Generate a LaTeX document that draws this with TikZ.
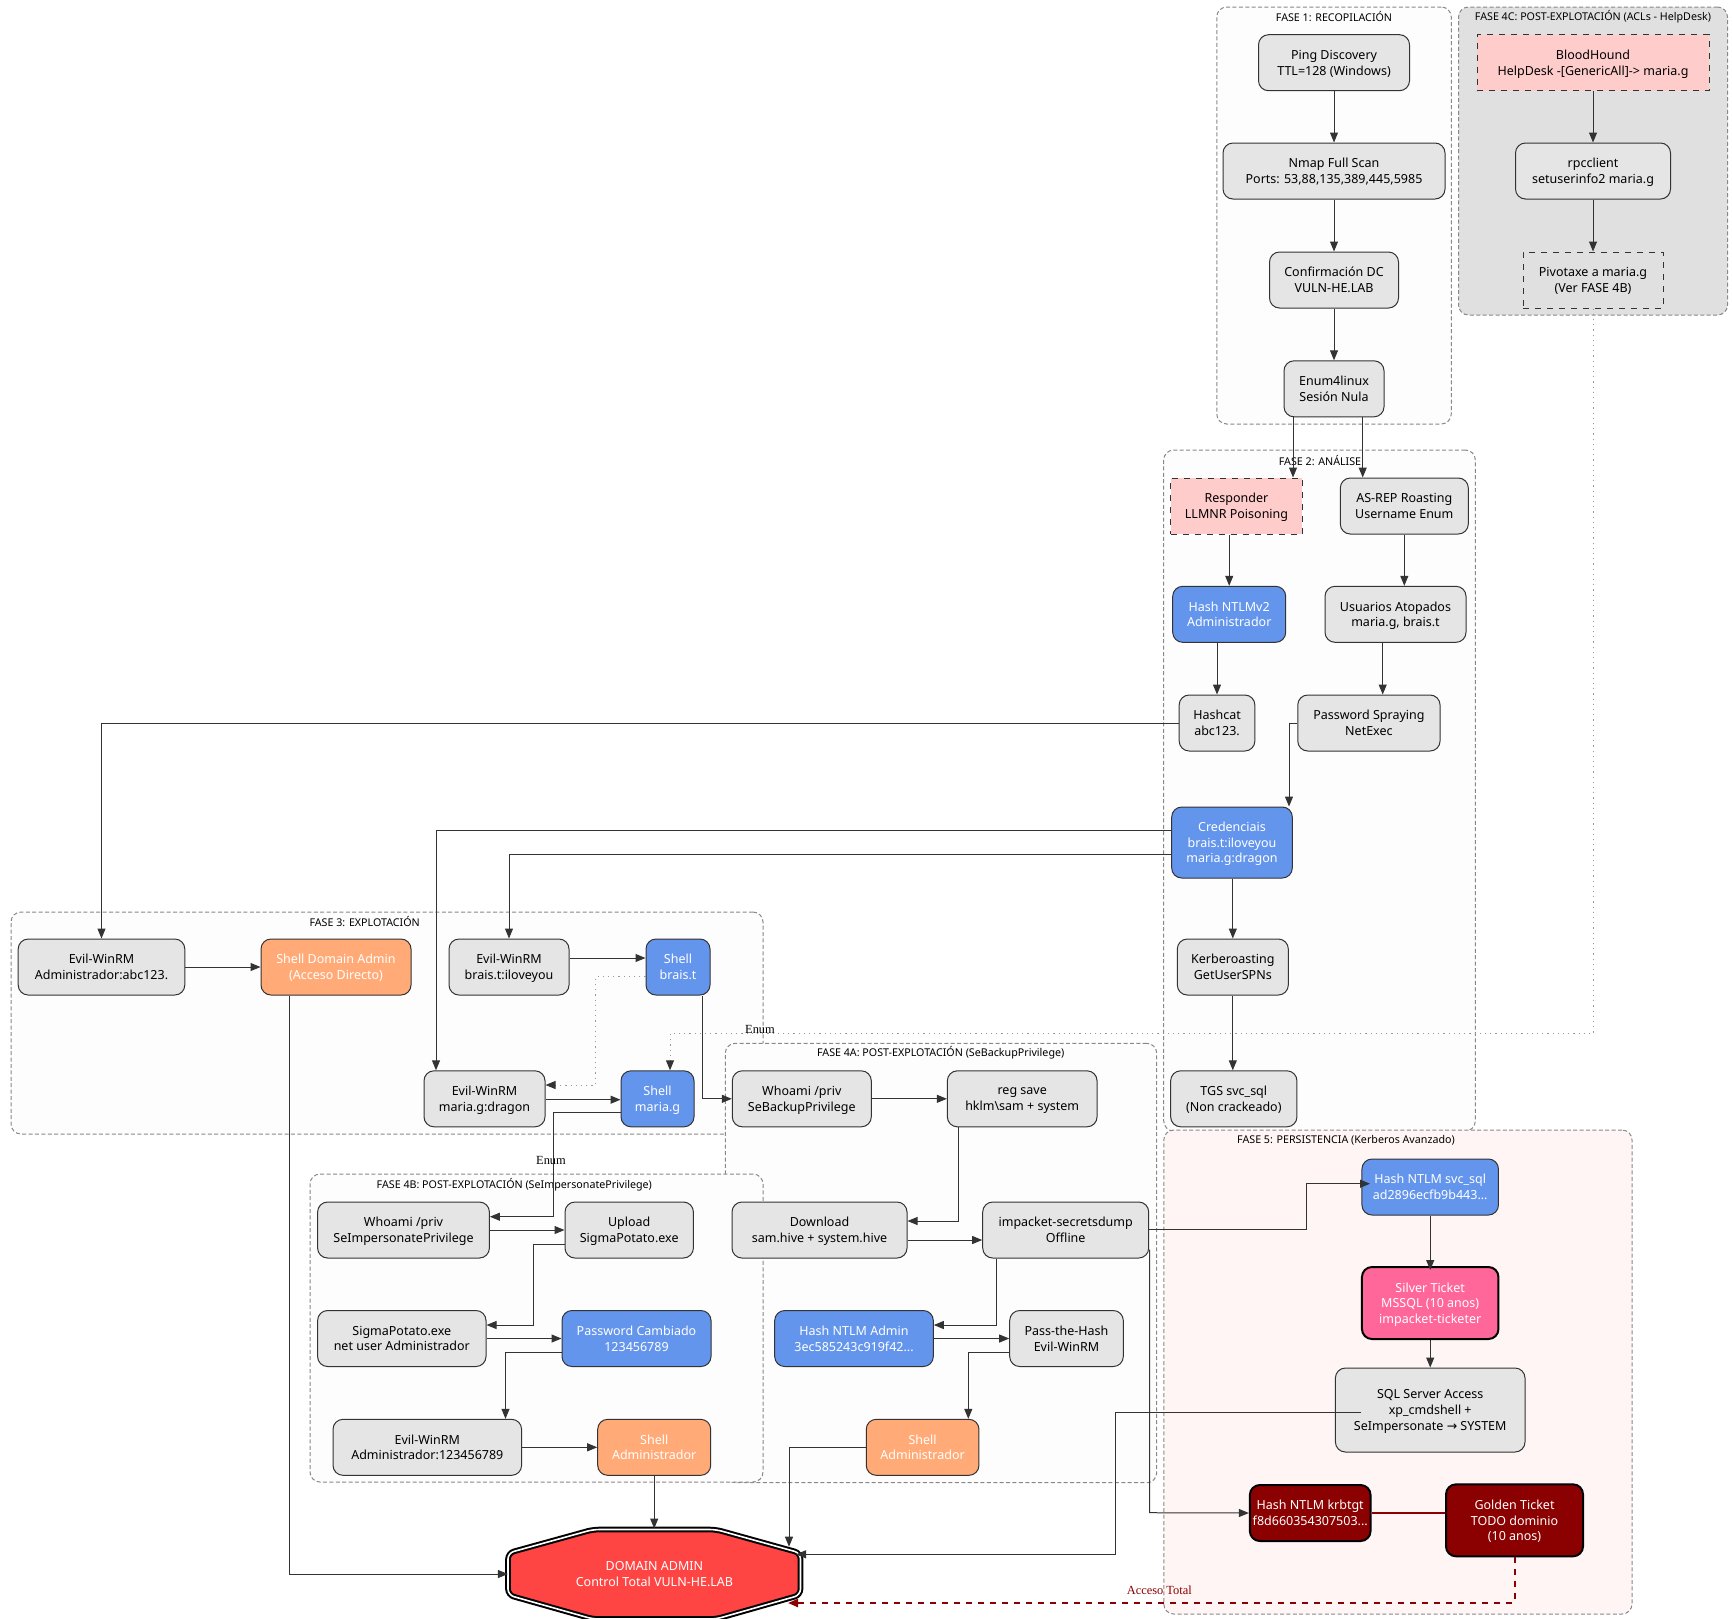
\documentclass[tikz,border=0pt]{standalone}
\usepackage{fontspec}
\setmainfont{Noto Sans}
\newfontfamily\edgefont{Liberation Serif}
\newfontfamily\arrowfont{DejaVu Sans}
\usetikzlibrary{arrows.meta}

\definecolor{edgecol}{HTML}{333333}
\definecolor{dotcol}{HTML}{999999}
\definecolor{clustercol}{HTML}{888888}
\definecolor{clusterfill}{HTML}{FDFDFD}
\definecolor{greyfill}{HTML}{E5E5E5}
\definecolor{helpfill}{HTML}{E0E0E0}
\definecolor{persistfill}{HTML}{FFF5F5}
\definecolor{credblue}{HTML}{6495ED}
\definecolor{shellorange}{HTML}{FFAA77}
\definecolor{attackpink}{HTML}{FFCCCC}
\definecolor{silverpink}{HTML}{FF6699}
\definecolor{goldred}{HTML}{8B0000}
\definecolor{domainred}{HTML}{FF4444}

\tikzset{
  wh/.style 2 args={minimum width=#1*0.5pt,minimum height=#2*0.5pt},
  basebox/.style={rounded corners=5pt,align=center,inner sep=0pt,text depth=0pt,line width=0.5pt,draw=edgecol,font=\fontsize{6.25}{7.8}\selectfont},
  greybox/.style={basebox,fill=greyfill,text=black},
  bluebox/.style={basebox,fill=credblue,text=white},
  orangebox/.style={basebox,fill=shellorange,text=white},
  attackbox/.style={basebox,sharp corners,dashed,fill=attackpink,text=black},
  pivotbox/.style={basebox,sharp corners,dashed,fill=helpfill,text=black},
  silverbox/.style={basebox,line width=1pt,draw=black,fill=silverpink,text=white},
  goldbox/.style={basebox,line width=1pt,draw=black,fill=goldred,text=white},
  domainshape/.style={rounded corners=3pt,fill=domainred,draw=black,double=white,double distance=0.8pt,line width=1pt},
  domainbox/.style={basebox,draw=none,text=white},
  cluster/.style={rounded corners=5pt,inner sep=0pt,line width=0.5pt,draw=clustercol,dash pattern=on 2pt off 1.2pt,fill=clusterfill},
  clustertitle/.style={inner sep=0pt,font=\fontsize{5.35}{7}\selectfont},
  flow/.style={draw=edgecol,line width=0.5pt,-{Triangle[length=5pt,width=4pt,color=edgecol]}},
  dotflow/.style={flow,draw=dotcol,dash pattern=on 0.6pt off 2pt},
  redflow/.style={draw=goldred,line width=1pt},
  edgelabel/.style={inner sep=0pt,font=\edgefont\fontsize{6.2}{7}\selectfont},
}

\begin{document}
\begin{tikzpicture}[x=0.5pt,y=-0.5pt]
  \useasboundingbox (0,0) rectangle (1733,1618);

  % clusters
  \node[cluster,wh={234.5}{417}] (fase1) at (1334,215.5) {};
  \node[cluster,wh={269}{308},fill=helpfill] (fase4c) at (1593,161) {};
  \node[cluster,wh={311.6}{681}] (fase2) at (1319.5,790.5) {};
  \node[cluster,wh={752}{222}] (fase3) at (387,1023) {};
  \node[cluster,wh={431.4}{439.4}] (fase4a) at (941,1263) {};
  \node[cluster,wh={453}{308}] (fase4b) at (536.5,1328) {};
  \node[cluster,wh={468.2}{484},fill=persistfill] (fase5) at (1397.9,1372) {};

  \node[clustertitle] (tfase1) at (1334,17) {FASE 1: RECOPILACIÓN};
  \node[clustertitle] (tfase4c) at (1593,17) {FASE 4C: POST-EXPLOTACIÓN (ACLs - HelpDesk)};
  \node[clustertitle] (tfase2) at (1320,461) {FASE 2: ANÁLISE};
  \node[clustertitle] (tfase3) at (364.7,922) {FASE 3: EXPLOTACIÓN};
  \node[clustertitle] (tfase4a) at (940.7,1053) {FASE 4A: POST-EXPLOTACIÓN (SeBackupPrivilege)};
  \node[clustertitle] (tfase4b) at (514.3,1185) {FASE 4B: POST-EXPLOTACIÓN (SeImpersonatePrivilege)};
  \node[clustertitle] (tfase5) at (1346,1140) {FASE 5: PERSISTENCIA (Kerberos Avanzado)};

  % fase 1
  \node[greybox,wh={151}{56}] (ping) at (1334,62.7) {Ping Discovery\\TTL=128 (Windows)};
  \node[greybox,wh={222}{56}] (nmap) at (1334,171) {Nmap Full Scan\\Ports: 53,88,135,389,445,5985};
  \node[greybox,wh={129}{56}] (confirm) at (1334,280) {Confirmación DC\\VULN-HE.LAB};
  \node[greybox,wh={100}{56}] (enumlinux) at (1334,388.8) {Enum4linux\\Sesión Nula};

  % fase 4c
  \node[attackbox,wh={232}{56}] (blood) at (1593,62.7) {BloodHound\\HelpDesk -[GenericAll]-> maria.g};
  \node[greybox,wh={155}{56}] (rpc) at (1593,171) {rpcclient\\setuserinfo2 maria.g};
  \node[pivotbox,wh={140}{56}] (pivot) at (1593,280) {Pivotaxe a maria.g\\(Ver FASE 4B)};

  % fase 2
  \node[attackbox,wh={131.6}{56}] (respond) at (1236.5,506) {Responder\\LLMNR Poisoning};
  \node[greybox,wh={128}{56}] (asrep) at (1404.3,506) {AS-REP Roasting\\Username Enum};
  \node[bluebox,wh={113}{56}] (hashv2) at (1229.2,614.3) {Hash NTLMv2\\Administrador};
  \node[greybox,wh={141}{56}] (usuarios) at (1395.5,614.3) {Usuarios Atopados\\maria.g, brais.t};
  \node[greybox,wh={75.7}{56}] (hashcat) at (1217,723) {Hashcat\\abc123.};
  \node[greybox,wh={142.3}{56}] (spray) at (1368.9,723) {Password Spraying\\NetExec};
  \node[bluebox,wh={120.6}{71}] (cred) at (1232,842.5) {Credenciais\\brais.t:iloveyou\\maria.g:dragon};
  \node[greybox,wh={111}{56}] (kerb) at (1232.8,967) {Kerberoasting\\GetUserSPNs};
  \node[greybox,wh={126.3}{56}] (tgs) at (1233.8,1098.8) {TGS svc\_sql\\(Non crackeado)};

  % fase 3
  \node[greybox,wh={166.6}{56}] (evila) at (101.5,967) {Evil-WinRM\\Administrador:abc123.};
  \node[orangebox,wh={150}{56}] (shellda) at (336,967) {Shell Domain Admin\\(Acceso Directo)};
  \node[greybox,wh={120}{56}] (evilb) at (509,967) {Evil-WinRM\\brais.t:iloveyou};
  \node[bluebox,wh={64}{56}] (shellb) at (678,967) {Shell\\brais.t};
  \node[greybox,wh={121}{56}] (evilm) at (484.5,1098.8) {Evil-WinRM\\maria.g:dragon};
  \node[bluebox,wh={73}{56}] (shellm) at (657.5,1098.8) {Shell\\maria.g};

  % fase 4a
  \node[greybox,wh={139}{56}] (whoamib) at (801.8,1098.8) {Whoami /priv\\SeBackupPrivilege};
  \node[greybox,wh={149.7}{56}] (regsave) at (1022.2,1098.8) {reg save\\hklm\textbackslash sam + system};
  \node[greybox,wh={175}{56}] (download) at (819.5,1230) {Download\\sam.hive + system.hive};
  \node[greybox,wh={166}{56}] (secrets) at (1065.7,1230) {impacket-secretsdump\\Offline};
  \node[bluebox,wh={158.6}{56}] (hashadm) at (854,1338.5) {Hash NTLM Admin\\3ec585243c919f42...};
  \node[greybox,wh={113.6}{56}] (pth) at (1066.5,1338.5) {Pass-the-Hash\\Evil-WinRM};
  \node[orangebox,wh={112.7}{56}] (shellb2) at (922.6,1447.3) {Shell\\Administrador};

  % fase 4b
  \node[greybox,wh={171.8}{56}] (whoamii) at (403.5,1230) {Whoami /priv\\SeImpersonatePrivilege};
  \node[greybox,wh={128.4}{56}] (upload) at (629.2,1230) {Upload\\SigmaPotato.exe};
  \node[greybox,wh={168.4}{56}] (sigma) at (401.8,1338.5) {SigmaPotato.exe\\net user Administrador};
  \node[bluebox,wh={149}{56}] (changed) at (636.5,1338.5) {Password Cambiado\\123456789};
  \node[greybox,wh={188.6}{56}] (evil2) at (427.3,1447.3) {Evil-WinRM\\Administrador:123456789};
  \node[orangebox,wh={113}{56}] (shella2) at (654.2,1447.3) {Shell\\Administrador};

  % fase 5
  \node[bluebox,wh={136.5}{56}] (hashsvc) at (1430.2,1187) {Hash NTLM svc\_sql\\ad2896ecfb9b443...};
  \node[silverbox,wh={136.5}{72}] (silver) at (1430.2,1303) {Silver Ticket\\MSSQL (10 anos)\\impacket-ticketer};
  \node[greybox,wh={189.6}{84},text depth=-1.5pt] (sql) at (1430.2,1410) {SQL Server Access\\xp\_cmdshell +\\SeImpersonate {\arrowfont→} SYSTEM};
  \node[goldbox,wh={120.7}{56}] (krbtgt) at (1310.2,1513) {Hash NTLM krbtgt\\f8d660354307503...};
  \node[goldbox,wh={137}{72}] (golden) at (1514.5,1520.3) {Golden Ticket\\TODO dominio\\(10 anos)};

  % final
  \draw[domainshape] (508,1553) -- (593,1529.5) -- (716,1529.5) -- (800.5,1553) -- (800.5,1595) -- (716,1619) -- (593,1619) -- (508,1595) -- cycle;
  \node[domainbox,wh={292}{90}] (domain) at (654.4,1574) {DOMAIN ADMIN\\Control Total VULN-HE.LAB};
  \coordinate (domainne) at (789,1546.7);
  \coordinate (domaine) at (796,1554.3);
  \coordinate (domainse) at (788,1603);
  \coordinate (sqlout) at (1361,1412);

  % connectors
  \draw[flow] (ping.south) -- (nmap.north);
  \draw[flow] (nmap.south) -- (confirm.north);
  \draw[flow] (confirm.south) -- (enumlinux.north);
  \draw[flow] (enumlinux.south -| 1293,0) -- (respond.north -| 1293,0);
  \draw[flow] (enumlinux.south -| 1362.7,0) -- (asrep.north -| 1362.7,0);
  \draw[flow] (blood.south) -- (rpc.north);
  \draw[flow] (rpc.south) -- (pivot.north);

  \draw[flow] (respond.south -| hashv2.north) -- (hashv2.north);
  \draw[flow] (asrep.south) -- (asrep.south |- usuarios.north);
  \draw[flow] (hashv2.south -| hashcat.north) -- (hashcat.north);
  \draw[flow] (usuarios.south -| 1382.7,0) -- (spray.north -| 1382.7,0);
  \draw[flow] (spray.west) -| (cred.north -| 1289,0);
  \draw[flow] (cred.south -| kerb.north) -- (kerb.north);
  \draw[flow] (kerb.south) -- (kerb.south |- tgs.north);

  \draw[flow] (hashcat.west) -| (evila.north);
  \draw[flow] (cred.west |- 0,830.6) -| (evilm.north -| 436,0);
  \draw[flow] (cred.west |- 0,854.7) -| (evilb.north);

  \draw[flow] (evila.east) -- (shellda.west);
  \draw[flow] (evilb.east |- 0,958) -- (shellb.west |- 0,958);
  \draw[flow] (evilm.east |- 0,1099.7) -- (shellm.west |- 0,1099.7);
  \draw[flow] (shellb.south -| 702.5,0) |- (whoamib.west);
  \draw[dotflow] (shellb.west |- 0,976.7) -| (595.5,1085) -- (evilm.east |- 0,1085);
  \draw[dotflow] (pivot.south) |- (670,1033.7) -- (shellm.north -| 670,0);
  \node[edgelabel] (enumb) at (760,1029) {Enum};
  \draw[flow] (shellm.west |- 0,1112.7) -| (553.5,1216.7) -- (whoamii.east |- 0,1216.7);
  \node[edgelabel] (enumi) at (551,1160) {Enum};

  \draw[flow] (whoamib.east) -- (regsave.west);
  \draw[flow] (regsave.south -| 958,0) |- (download.east |- 0,1221);
  \draw[flow] (download.east |- 0,1240) -- (secrets.west |- 0,1240);
  \draw[flow] (secrets.south -| 996,0) |- (hashadm.east |- 0,1325);
  \draw[flow] (hashadm.east) -- (pth.west);
  \draw[flow] (pth.west |- 0,1352.7) -| (shellb2.north -| 968.3,0);
  \draw[flow] (shellb2.west) -| (domainne);

  \draw[flow] (whoamii.east) -- (upload.west);
  \draw[flow] (upload.west |- 0,1244.3) -| (533.4,1325) -- (sigma.east |- 0,1325);
  \draw[flow] (sigma.east) -- (changed.west);
  \draw[flow] (changed.west |- 0,1352.7) -| (evil2.north -| 505.5,0);
  \draw[flow] (evil2.east) -- (shella2.west);
  \draw[flow] (shella2.south) -- (shella2.south |- domain.north);
  \draw[flow] (shellda.south -| 289.5,0) |- (domain.west);

  \draw[flow] (secrets.east |- 0,1229.7) -| (1306,1183.7) -- (1370,1183.7);
  \draw[flow] (hashsvc.south) -- (1430.2,1270);
  \draw[flow] (silver.south) -- (sql.north);
  \draw[flow] (sqlout) -| (1115,1554.3) -- (domaine);
  \draw[flow] (secrets.east |- 0,1250) -| (1149.7,1512.7) -- (krbtgt.west);
  \draw[redflow] (krbtgt.east) -- (golden.west |- krbtgt.east);
  \draw[redflow,dashed,-{Triangle[length=5pt,width=4pt,color=goldred]}] (golden.south) |- (domainse);
  \node[edgelabel,text=goldred] (acceso) at (1159.3,1590.7) {Acceso Total};
\end{tikzpicture}
\end{document}
